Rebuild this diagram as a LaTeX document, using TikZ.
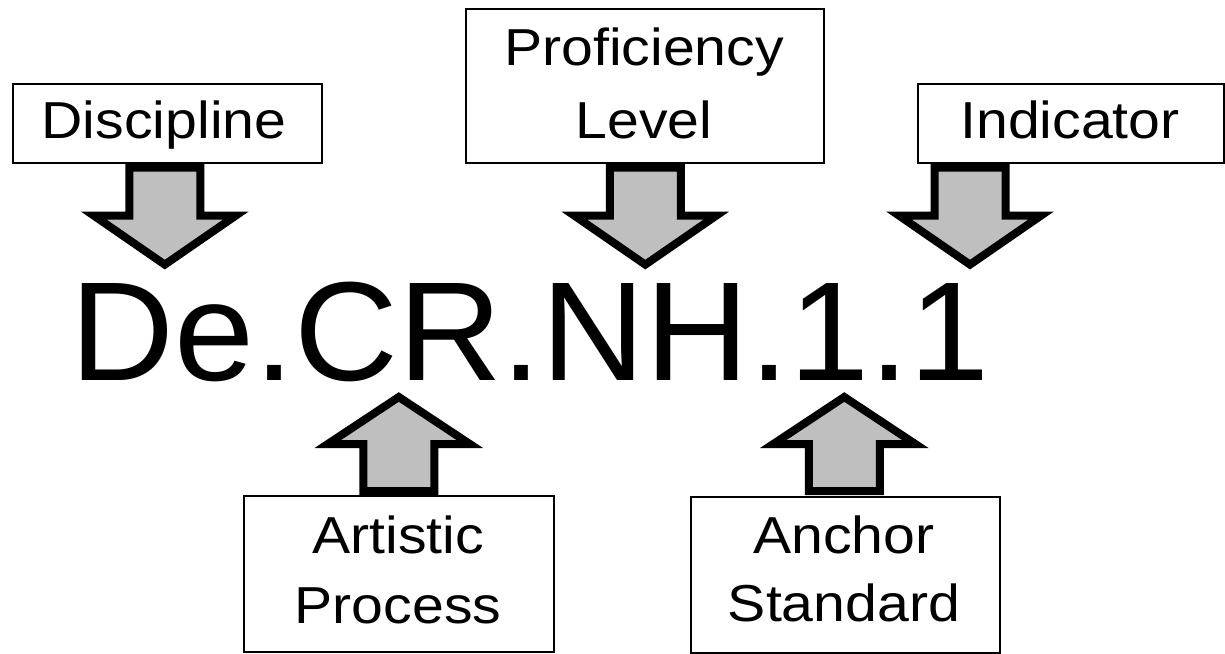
\documentclass[tikz,border=0pt]{standalone}
\usepackage{fontspec}
\setmainfont{Liberation Sans}
\newfontfamily\boxfont[FakeStretch=1.1]{Liberation Sans}
\newfontfamily\codefont[FakeStretch=1.02]{Liberation Sans}
\usetikzlibrary{calc}
\definecolor{arrgray}{HTML}{BFBFBF}
\begin{document}
\begin{tikzpicture}[x=1pt,y=-1pt,
  box/.style={draw=black,line width=1.6pt,fill=white,inner sep=0pt,anchor=north west},
  lbl/.style={font=\boxfont\fontsize{52}{73}\selectfont,anchor=base,inner sep=0pt},
  blk/.style={draw=black,fill=arrgray,line width=8pt,line join=miter,miter limit=10},
  downarr/.pic={\draw[blk] (-35.5,0) -- (35.5,0) -- (35.5,48) -- (71,48) -- (0,97) -- (-71,48) -- (-35.5,48) -- cycle;},
  uparr/.pic={\draw[blk] (-35.5,0) -- (35.5,0) -- (35.5,-47) -- (71,-47) -- (0,-94) -- (-71,-47) -- (-35.5,-47) -- cycle;}
]
\useasboundingbox (0,0) rectangle (1225,653);

% boxes
\node[box,minimum width=309pt,minimum height=79pt] (disc) at (12,83) {};
\node[box,minimum width=358pt,minimum height=154pt] (prof) at (465,8) {};
\node[box,minimum width=306pt,minimum height=79pt] (ind) at (917,83) {};
\node[box,minimum width=310pt,minimum height=156pt] (art) at (243,495) {};
\node[box,minimum width=309pt,minimum height=156pt] (anc) at (690,496) {};

% block arrows
\pic at ($(disc.south)+(-2.5,4)$) {downarr};
\pic at ($(prof.south)+(0.5,4)$) {downarr};
\pic at ($(ind.south west)+(53,4)$) {downarr};
\pic at ($(art.north)+(0,-4)$) {uparr};
\pic at ($(anc.north)+(-1,-5)$) {uparr};

% labels
\node[lbl] (discT) at (164,138) {Discipline};
\node[lbl] (profT1) at (644,65) {Proficiency};
\node[lbl] (profT2) at (644,138) {Level};
\node[lbl] (indT) at (1070,138) {Indicator};
\node[lbl] (artT1) at (398,553) {Artistic};
\node[lbl] (artT2) at (398,623) {Process};
\node[lbl] (ancT1) at (844,553) {Anchor};
\node[lbl] (ancT2) at (844,621) {Standard};

% code
\node[anchor=base,inner sep=0pt,font=\codefont\fontsize{141}{141}\selectfont] (code) at (530,380) {De.CR.NH.1.1};
\end{tikzpicture}
\end{document}
